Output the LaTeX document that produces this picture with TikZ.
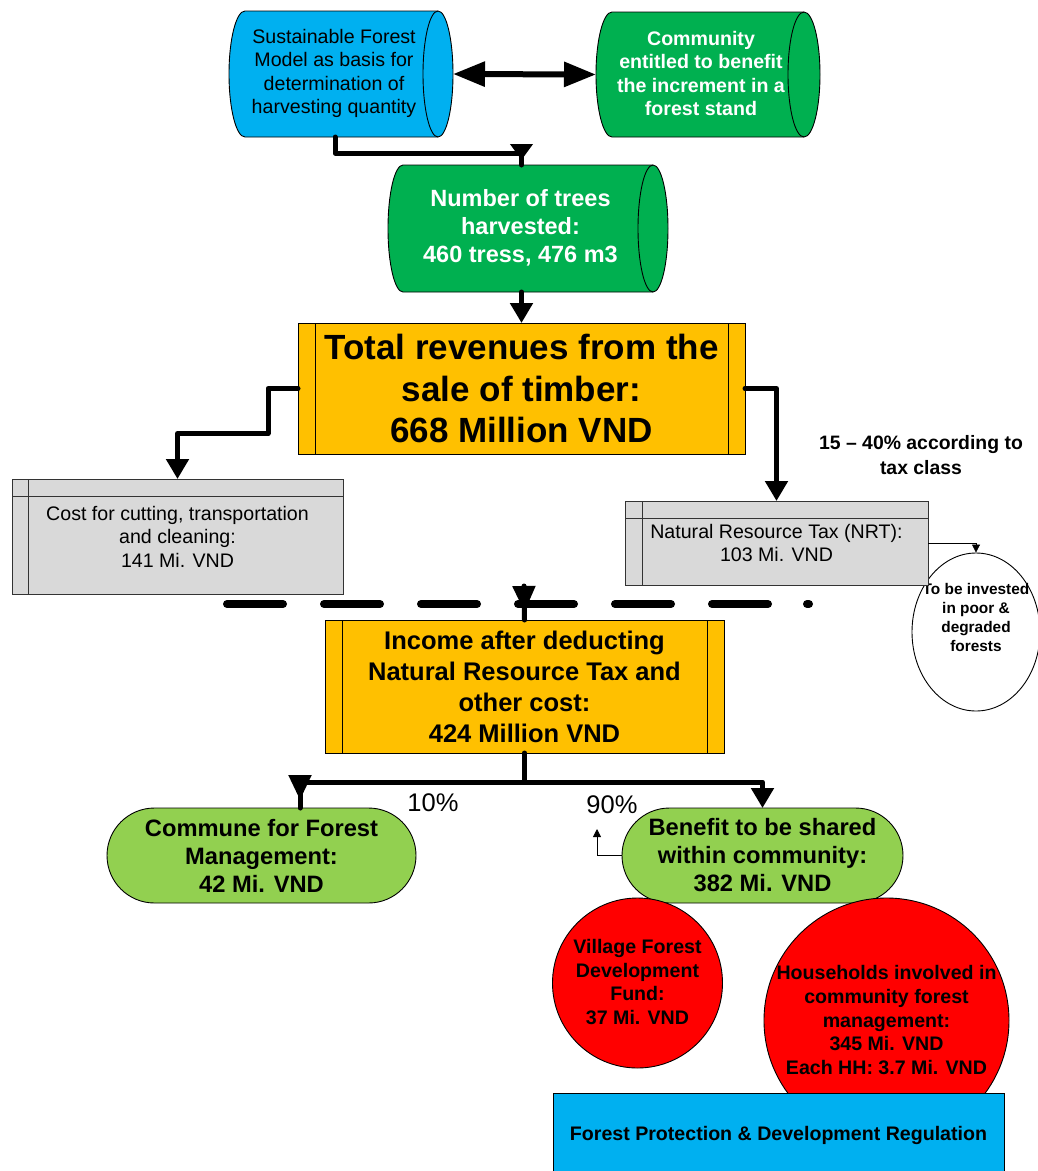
\documentclass[tikz,border=0pt]{standalone}
\usepackage{fontspec}
\setmainfont{Liberation Sans}
\usetikzlibrary{arrows.meta,shapes.geometric,calc}

\definecolor{cBlue}{HTML}{00B0F0}
\definecolor{cGreen}{HTML}{00B050}
\definecolor{cOrange}{HTML}{FFC000}
\definecolor{cLime}{HTML}{92D050}
\definecolor{cRed}{HTML}{FF0000}
\definecolor{cGray}{HTML}{D9D9D9}

\newcommand\fs[2]{\fontsize{#1}{#2}\selectfont}

% horizontal storage drum: node, left bulge, right bulge, fill, half height
\newcommand\drum[5]{%
  \draw[outline, fill=#4] (#1.north west)
      arc[start angle=90, end angle=270, x radius=#2pt, y radius=#5pt]
      -- (#1.south east)
      arc[start angle=-90, end angle=90, x radius=#3pt, y radius=#5pt] -- cycle;
  \draw[outline] (#1.north east)
      arc[start angle=90, end angle=270, x radius=#3pt, y radius=#5pt];
}

\tikzset{
  outline/.style={draw=black, line width=0.9pt},
  body/.style={rectangle, inner sep=0pt, outer sep=0pt},
  lbl/.style={inner sep=0pt, outer sep=0pt, align=center},
  reg/.style={lbl, font=\fs{19.6}{23.6}},
  bld/.style={lbl, font=\bfseries\fs{19.6}{23.6}},
  flow/.style={line width=5pt, line join=round, line cap=round},
  tipS/.style={-{Triangle[length=20pt,width=22pt]}},
  tipline/.style={line width=5pt, line cap=butt, -{Triangle[length=25pt,width=22pt]}},
  thinflow/.style={line width=0.8pt, -{Triangle[length=8pt,width=8pt]}},
}

\begin{document}
\begin{tikzpicture}[x=1pt, y=-1pt]
\useasboundingbox (0,0) rectangle (1038,1171);
\clip (0,0) rectangle (1038,1171);

% ---- reinvestment ellipse
\node[ellipse, draw=black, line width=0.9pt, fill=white, minimum width=128pt,
      minimum height=158pt, inner sep=0pt] (inv) at (976,632) {};
\node[bld, font=\bfseries\fs{15.4}{19}] (invt) at (976,617.5)
  {To be invested\\in poor \&\\degraded\\forests};

% ---- storage drums at the top
\node[body, minimum width=193pt, minimum height=126pt] (sfm) at (341.5,74) {};
\drum{sfm}{16}{15}{cBlue}{63}
\node[reg] (sfmt) at (334,73.5)
  {Sustainable Forest\\Model as basis for\\determination of\\harvesting quantity};

\node[body, minimum width=192pt, minimum height=125pt] (com) at (708,74.5) {};
\drum{com}{16}{16}{cGreen}{62.5}
\node[bld, text=white] (comt) at (701,73.5)
  {Community\\entitled to benefit\\the increment in a\\forest stand};

\node[body, minimum width=250pt, minimum height=127pt] (trees) at (528,228.5) {};
\drum{trees}{15}{15}{cGreen}{63.5}
\node[bld, text=white, font=\bfseries\fs{23.5}{28}] (treest) at (520.5,228)
  {Number of trees\\harvested:\\460 tress, 476 m3};

% ---- total revenues
\node[lbl, outline, fill=cOrange, minimum width=447pt, minimum height=131pt,
      font=\bfseries\fs{35}{41.5}] (rev) at (521.5,388.5)
  {Total revenues from the\\sale of timber:\\668 Million VND};
\draw[outline] ([xshift=17pt]rev.north west) -- ([xshift=17pt]rev.south west);
\draw[outline] ([xshift=-17pt]rev.north east) -- ([xshift=-17pt]rev.south east);

% ---- cost and tax boxes
\node[reg, draw=black!80, line width=0.9pt, fill=cGray, minimum width=331pt,
      minimum height=115pt] (cost) at (177.5,536.5)
  {Cost for cutting, transportation\\and cleaning:\\141 Mi. VND};
\draw[draw=black!80, line width=0.9pt] ([xshift=16pt]cost.north west) -- ([xshift=16pt]cost.south west);
\draw[draw=black!80, line width=0.9pt] ([yshift=-17pt]cost.north west) -- ([yshift=-17pt]cost.north east);

\node[reg, draw=black!80, line width=0.9pt, fill=cGray, minimum width=303pt,
      minimum height=84pt] (nrt) at (776.5,543)
  {Natural Resource Tax (NRT):\\103 Mi. VND};
\draw[draw=black!80, line width=0.9pt] ([xshift=17pt]nrt.north west) -- ([xshift=17pt]nrt.south west);
\draw[draw=black!80, line width=0.9pt] ([yshift=-17pt]nrt.north west) -- ([yshift=-17pt]nrt.north east);

\node[bld, font=\bfseries\fs{19.4}{25}] (rate) at (921,455)
  {15 -- 40\% according to\\tax class};

% ---- collecting dashed line
\foreach \k in {0,...,5}
  \draw[line width=8pt, line cap=round] ({227+97*\k},604) -- ++(56,0);
\draw[line width=8pt, line cap=round] (807,604) -- (809,604);
\coordinate (hub) at (524,586);

% ---- net income
\node[lbl, outline, fill=cOrange, minimum width=399pt, minimum height=133pt,
      font=\bfseries\fs{25.5}{31}] (inc) at (524.5,686.5)
  {Income after deducting\\Natural Resource Tax and\\other cost:\\424 Million VND};
\draw[outline] ([xshift=17pt]inc.north west) -- ([xshift=17pt]inc.south west);
\draw[outline] ([xshift=-17pt]inc.north east) -- ([xshift=-17pt]inc.south east);

% ---- shares
\node[bld, font=\bfseries\fs{23.7}{28}, outline, fill=cLime, rounded corners=47.5pt,
      minimum width=309pt, minimum height=95pt] (cfm) at (261.5,855.5)
  {Commune for Forest\\Management:\\42 Mi. VND};
\node[bld, font=\bfseries\fs{23.7}{28}, outline, fill=cLime, rounded corners=47.5pt,
      minimum width=281pt, minimum height=95pt] (ben) at (762.5,855.5)
  {Benefit to be shared\\within community:\\382 Mi. VND};

\node[font=\fs{25.5}{30}, inner sep=0pt] (p10) at (433,803) {10\%};
\node[font=\fs{25.5}{30}, inner sep=0pt] (p90) at (612,805) {90\%};

\node[circle, outline, fill=cRed, minimum size=170pt, inner sep=0pt] (vfd) at (637.5,983) {};
\node[bld] (vfdt) at (637.5,982) {Village Forest\\Development\\Fund:\\37 Mi. VND};

\node[circle, outline, fill=cRed, minimum size=245pt, inner sep=0pt] (hh) at (886.5,1020.5) {};
\node[bld] (hht) at (886.5,1020)
  {Households involved in\\community forest\\management:\\345 Mi. VND\\Each HH: 3.7 Mi. VND};

\node[bld, outline, fill=cBlue, minimum width=451pt, minimum height=84pt] (fpd) at (778.5,1135)
  {Forest Protection \& Development Regulation};

% ---- connectors
\draw[flow, line width=6pt, line cap=butt,
      {Triangle[length=32pt,width=24pt]}-{Triangle[length=32pt,width=24pt]}]
  ([xshift=15pt]sfm.east) -- ([xshift=-16pt]com.west);

\coordinate (tt) at (rev.north |- trees.north);
\draw[flow] ([xshift=-6.5pt]sfm.south) -- ++(0,16) -| (tt);
\draw[tipline, -{Triangle[length=16pt,width=22pt]}] ([yshift=21pt]tt) -- ([yshift=5pt]tt);

\draw[flow, tipS] (rev.north |- trees.south) -- (rev.north);
\draw[flow, tipS] (rev.west) -- ++(-30,0) -- ++(0,45) -| (cost.north);
\draw[flow, tipS] (rev.east) -| (nrt.north);
\draw[thinflow] (nrt.east) -| (inv.north);

\draw[flow] (hub) -- (inc.north);
\draw[tipline, -{Triangle[length=26pt,width=22pt]}] (hub) -- ([yshift=8pt]inc.north);

\coordinate (split) at ($(inc.south)+(0,29)$);
\draw[flow] (inc.south) -- (split);
\draw[flow] (split) -| ([xshift=38.5pt]cfm.north);
\draw[tipline] ([xshift=38.5pt,yshift=33pt]cfm.north) -- ([xshift=38.5pt,yshift=8pt]cfm.north);
\draw[flow, tipS] (split) -| (ben.north);

\coordinate (benup) at (597,829);
\draw[thinflow] (ben.west) -| (benup);
\end{tikzpicture}
\end{document}
